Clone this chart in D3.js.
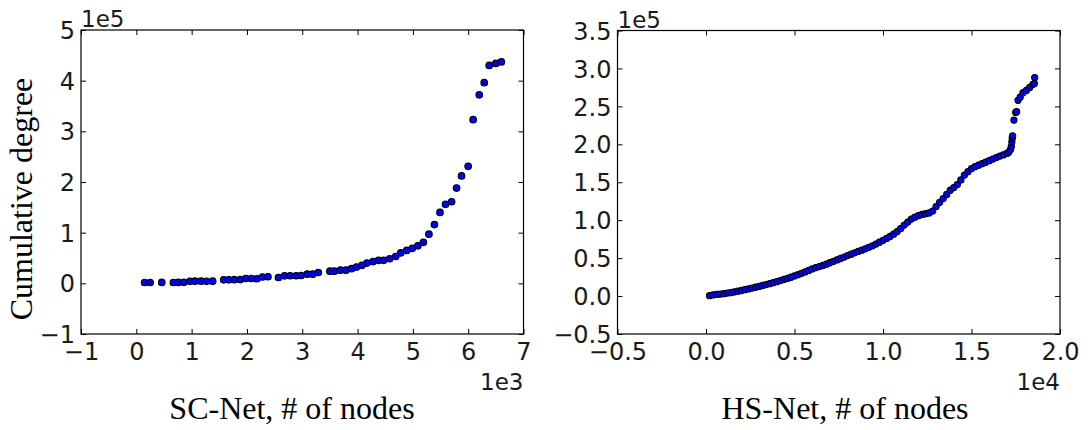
<!DOCTYPE html>
<html>
<head>
<meta charset="utf-8">
<script src="https://cdn.jsdelivr.net/npm/d3@7"></script>
<style>
  body { margin: 0; background: #fff; }
  svg { display: block; }
  .tick text { font-family: "DejaVu Sans", sans-serif; font-size: 24px; fill: #1a1a1a; }
  .tick line { stroke: #000; stroke-width: 1; }
  .domain { display: none; }
</style>
</head>
<body>
<svg id="chart" width="1088" height="430"></svg>
<script>
// SC-Net: cumulative degree vs # of nodes
var scNodes = [150, 250, 460, 670, 760, 860, 970, 1060, 1170, 1270, 1380,
  1580, 1670, 1770, 1880, 1980, 2080, 2180, 2280, 2380,
  2570, 2680, 2780, 2890, 2980, 3090, 3190, 3290,
  3500, 3580, 3690, 3790, 3890, 3980, 4080, 4170, 4280, 4380, 4470, 4580,
  4690, 4780, 4890, 4990, 5090, 5190, 5290, 5390, 5490, 5590, 5700, 5790,
  5880, 6000, 6090, 6200, 6290, 6380, 6500, 6600];
var scDegree = [1600, 1600, 1800, 1600, 1800, 2000, 4000, 4200, 4200, 4000, 4200,
  7000, 7000, 7200, 7500, 9500, 9500, 9000, 12500, 13000,
  11500, 14800, 15000, 15000, 15500, 18000, 18000, 21400,
  24000, 24000, 26000, 26000, 29000, 32000, 35500, 40000, 43000, 45500, 45500, 48500,
  53000, 60000, 65000, 69000, 74000, 81000, 97000, 116000, 140000, 156000, 161000, 188000,
  212000, 231000, 323000, 372000, 396000, 430000, 434000, 437000];

// HS-Net: cumulative degree vs # of nodes
var hsNodes = [200, 400, 600, 800, 1000, 1200, 1400, 1600, 1800, 2000,
  2200, 2400, 2600, 2800, 3000, 3200, 3400, 3600, 3800, 4000,
  4200, 4400, 4600, 4800, 5000, 5200, 5400, 5600, 5800, 6000,
  6200, 6400, 6600, 6800, 7000, 7200, 7400, 7600, 7800, 8000,
  8200, 8400, 8600, 8800, 9000, 9200, 9400, 9600, 9800, 10000,
  10200, 10400, 10600, 10800, 11000, 11200, 11400, 11600, 11800, 12000,
  12200, 12400, 12600, 12800, 13000, 13200, 13400, 13600, 13800, 14000,
  14200, 14400, 14600, 14800, 15000, 15200, 15400, 15600, 15800, 16000,
  16200, 16400, 16600, 16800, 17000, 17100, 17200, 17250, 17280, 17300,
  17320, 17400, 17500, 17550, 17630, 17750, 17910, 18100, 18290, 18470,
  18550, 18570];
var hsDegree = [500, 1500, 2200, 2600, 3200, 3900, 4500, 5500, 6500, 7300,
  8400, 9400, 10500, 11600, 12700, 13900, 15100, 16300, 17600, 19000,
  20400, 21800, 23300, 24800, 26500, 28200, 30000, 31800, 33800, 35800,
  37400, 38800, 40300, 42000, 43900, 45800, 47600, 49500, 51400, 53400,
  55200, 57000, 58800, 60500, 62300, 64200, 66200, 68500, 71000, 73500,
  76000, 78500, 81500, 85000, 89000, 93500, 97500, 101500, 104000, 106000,
  107500, 108500, 109500, 112000, 118000, 123500, 128500, 134000, 139500, 143000,
  147000, 153000, 159500, 164000, 168000, 170500, 172500, 174500, 176500, 178500,
  180500, 182500, 184500, 186000, 188000, 189500, 193000, 197000, 203000, 208000,
  211000, 232000, 242000, 243000, 258000, 262000, 268000, 271000, 275000, 279000,
  280000, 288000];

var scXTicks = [-1000, 0, 1000, 2000, 3000, 4000, 5000, 6000, 7000],
  scXLabels = ['\u22121', '0', '1', '2', '3', '4', '5', '6', '7'],
  scYTicks = [-100000, 0, 100000, 200000, 300000, 400000, 500000],
  scYLabels = ['\u22121', '0', '1', '2', '3', '4', '5'],
  hsXTicks = [-5000, 0, 5000, 10000, 15000, 20000],
  hsXLabels = ['\u22120.5', '0.0', '0.5', '1.0', '1.5', '2.0'],
  hsYTicks = [-50000, 0, 50000, 100000, 150000, 200000, 250000, 300000, 350000],
  hsYLabels = ['\u22120.5', '0.0', '0.5', '1.0', '1.5', '2.0', '2.5', '3.0', '3.5'];

var svg = d3.select('#chart');
var TICK = 5;

function panel(opt) {
  var x = d3.scaleLinear().domain(opt.xDomain).range([opt.left, opt.right]),
    y = d3.scaleLinear().domain(opt.yDomain).range([opt.bottom, opt.top]);
  var g = svg.append('g');

  function fmt(ticks, labels) {
    return function(d) { return labels[ticks.indexOf(d)]; };
  }

  // bottom + left with labels, top + right only ticks (all pointing in)
  var bottomAxis = g.append('g')
    .attr('transform', 'translate(0,' + opt.bottom + ')')
    .call(d3.axisBottom(x).tickValues(opt.xTicks).tickSize(-TICK).tickPadding(8)
      .tickFormat(fmt(opt.xTicks, opt.xLabels)));
  g.append('g')
    .attr('transform', 'translate(0,' + opt.top + ')')
    .call(d3.axisTop(x).tickValues(opt.xTicks).tickSize(-TICK).tickFormat(''));
  var leftAxis = g.append('g')
    .attr('transform', 'translate(' + opt.left + ',0)')
    .call(d3.axisLeft(y).tickValues(opt.yTicks).tickSize(-TICK).tickPadding(6)
      .tickFormat(fmt(opt.yTicks, opt.yLabels)));
  g.append('g')
    .attr('transform', 'translate(' + opt.right + ',0)')
    .call(d3.axisRight(y).tickValues(opt.yTicks).tickSize(-TICK).tickFormat(''));

  bottomAxis.selectAll('.tick text').attr('dy', '0.74em');
  leftAxis.selectAll('.tick text').attr('dy', '0.36em');

  g.append('g')
    .selectAll('circle')
    .data(opt.xs.map(function(v, i) { return [v, opt.ys[i]]; }))
    .enter()
    .append('circle')
    .attr('cx', function(d) { return x(d[0]); })
    .attr('cy', function(d) { return y(d[1]); })
    .attr('r', opt.r)
    .attr('fill', '#0000ff')
    .attr('stroke', '#000')
    .attr('stroke-width', 1.1);

  g.append('rect')
    .attr('x', opt.left)
    .attr('y', opt.top)
    .attr('width', opt.right - opt.left)
    .attr('height', opt.bottom - opt.top)
    .attr('fill', 'none')
    .attr('stroke', '#000')
    .attr('stroke-width', 1.2);

  // offset texts
  g.append('text')
    .attr('x', opt.left)
    .attr('y', opt.top - 3)
    .style('font-family', '"DejaVu Sans", sans-serif')
    .style('font-size', '23px')
    .attr('fill', '#1a1a1a')
    .text(opt.yOffset);
  g.append('text')
    .attr('x', opt.right)
    .attr('y', opt.bottom + 56)
    .style('font-family', '"DejaVu Sans", sans-serif')
    .style('font-size', '23px')
    .style('text-anchor', 'end')
    .attr('fill', '#1a1a1a')
    .text(opt.xOffset);

  g.append('text')
    .attr('x', opt.labelX)
    .attr('y', 419)
    .style('font-family', '"Liberation Serif", "Times New Roman", serif')
    .style('font-size', '32px')
    .style('text-anchor', 'middle')
    .attr('fill', '#000')
    .text(opt.xTitle);
}

panel({
  left: 81, right: 523.5, top: 30, bottom: 334,
  xDomain: [-1000, 7000], yDomain: [-100000, 500000],
  xTicks: scXTicks, xLabels: scXLabels, yTicks: scYTicks, yLabels: scYLabels,
  xs: scNodes, ys: scDegree, r: 3.3,
  yOffset: '1e5', xOffset: '1e3',
  xTitle: 'SC-Net, # of nodes', labelX: 292
});

panel({
  left: 617.5, right: 1060, top: 30.5, bottom: 334,
  xDomain: [-5000, 20000], yDomain: [-50000, 350000],
  xTicks: hsXTicks, xLabels: hsXLabels, yTicks: hsYTicks, yLabels: hsYLabels,
  xs: hsNodes, ys: hsDegree, r: 3.1,
  yOffset: '1e5', xOffset: '1e4',
  xTitle: 'HS-Net, # of nodes', labelX: 845
});

svg.append('text')
  .attr('transform', 'translate(32,199) rotate(-90)')
  .style('font-family', '"Liberation Serif", "Times New Roman", serif')
  .style('font-size', '32px')
  .style('text-anchor', 'middle')
  .attr('fill', '#000')
  .text('Cumulative degree');
</script>
</body>
</html>
